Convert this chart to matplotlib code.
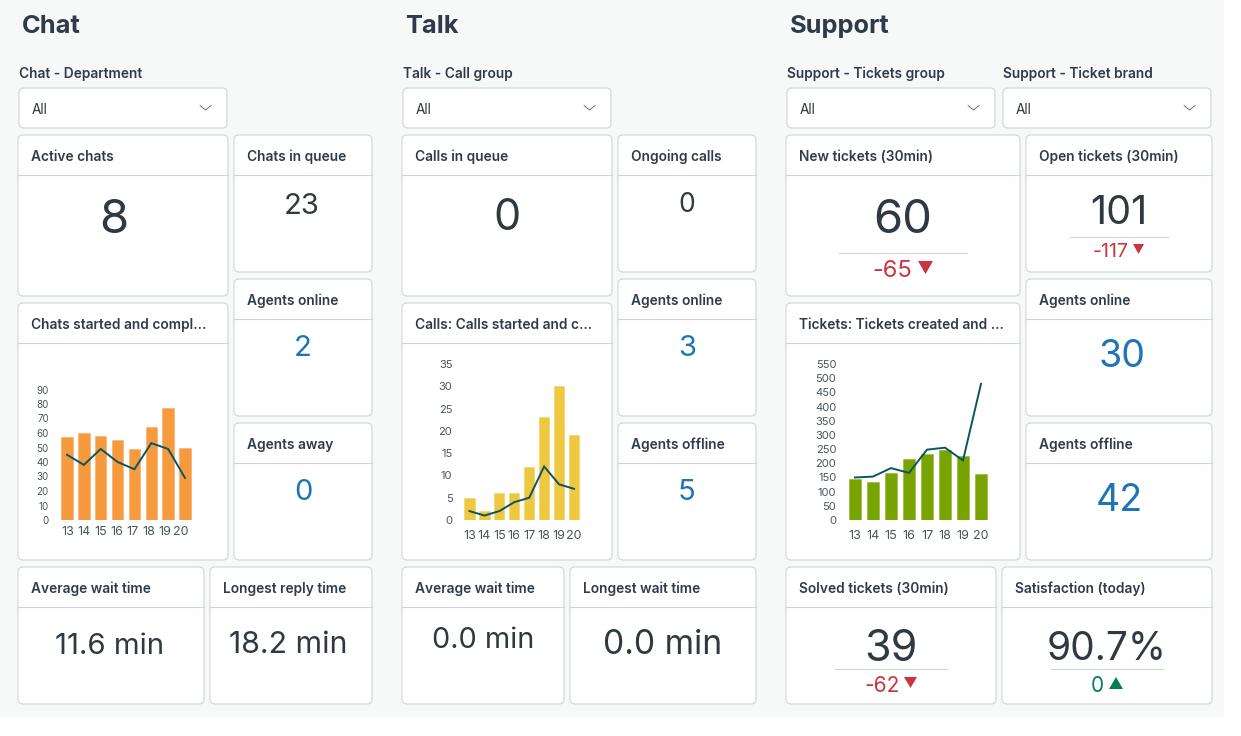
"""live support dashboard: chat, talk and support panels"""
import matplotlib
matplotlib.use('Agg')
import matplotlib.pyplot as plt
import numpy as np
from matplotlib.colors import to_rgba
from matplotlib.patches import FancyBboxPatch, Polygon, Rectangle

plt.rcParams['font.family'] = ['Inter', 'DejaVu Sans']

W, H = 1241, 736
INK = '#2f3941'
HEAD = '#2f3a4b'
BLUE = '#1f73b7'
RED = '#cc3340'
GREEN = '#038153'
BORDER = '#d0d4d6'
LINE = '#0b5563'

hours = ['13', '14', '15', '16', '17', '18', '19', '20']

chat_started = [57, 60, 58, 55, 49, 64, 77, 50]
chat_completed = [45, 38, 49, 40, 35, 53, 49, 29]
chat_ticks = [0, 10, 20, 30, 40, 50, 60, 70, 80, 90]

calls_started = [5, 2, 6, 6, 12, 23, 30, 19]
calls_completed = [2, 1, 2, 4, 5, 12, 8, 7]
calls_ticks = [0, 5, 10, 15, 20, 25, 30, 35]

tickets_created = [145, 133, 165, 215, 232, 247, 224, 163]
tickets_solved = [150, 153, 183, 166, 248, 255, 210, 480]
tickets_ticks = [0, 50, 100, 150, 200, 250, 300, 350, 400, 450, 500, 550]

sections = [('Chat', 22), ('Talk', 405.5), ('Support', 790)]

# label, left, right
filters = [
    ('Chat - Department', 19, 227),
    ('Talk - Call group', 403, 611),
    ('Support - Tickets group', 787, 995),
    ('Support - Ticket brand', 1003, 1211),
]

# title, x0, y0, x1, y1
cards = [
    ('Active chats', 18, 135, 228, 296),
    ('Chats in queue', 234, 135, 372, 272),
    ('Chats started and compl...', 18, 303, 228, 560),
    ('Agents online', 234, 279, 372, 416),
    ('Agents away', 234, 423, 372, 560),
    ('Average wait time', 18, 567, 204, 704),
    ('Longest reply time', 210, 567, 372, 704),
    ('Calls in queue', 402, 135, 612, 296),
    ('Ongoing calls', 618, 135, 756, 272),
    ('Calls: Calls started and c...', 402, 303, 612, 560),
    ('Agents online', 618, 279, 756, 416),
    ('Agents offline', 618, 423, 756, 560),
    ('Average wait time', 402, 567, 564, 704),
    ('Longest wait time', 570, 567, 756, 704),
    ('New tickets (30min)', 786, 135, 1020, 296),
    ('Open tickets (30min)', 1026, 135, 1212, 272),
    ('Tickets: Tickets created and ...', 786, 303, 1020, 560),
    ('Agents online', 1026, 279, 1212, 416),
    ('Agents offline', 1026, 423, 1212, 560),
    ('Solved tickets (30min)', 786, 567, 996, 704),
    ('Satisfaction (today)', 1002, 567, 1212, 704),
]

# text, centre x, centre y, font size, colour
values = [
    ('8', 114, 216, 34, INK),
    ('23', 302, 204, 21, INK),
    ('2', 303, 345, 21, BLUE),
    ('0', 303, 489, 21, BLUE),
    ('11.6 min', 110, 644, 21.2, INK),
    ('18.2 min', 288, 642, 21.8, INK),
    ('0', 507, 214, 31, INK),
    ('0', 687, 202, 19, INK),
    ('3', 687, 345, 21, BLUE),
    ('5', 687, 489, 21, BLUE),
    ('0.0 min', 483, 637, 20.8, INK),
    ('0.0 min', 663, 642, 24.2, INK),
    ('60', 903, 216, 34, INK),
    ('101', 1119, 209, 28.5, INK),
    ('30', 1122, 353, 27, BLUE),
    ('42', 1119, 497, 27, BLUE),
    ('39', 891, 645, 31, INK),
    ('90.7%', 1107, 646, 28, INK),
]

# text, centre x, centre y, size, colour, rule x0, rule x1, rule y, triangle x0, x1, y0, y1, points down
deltas = [
    ('-65', 892, 268.5, 17, RED, 839, 967, 253, 918, 933, 261, 274, True),
    ('-117', 1111, 250, 14, RED, 1070, 1168, 237, 1133, 1144, 244, 254, True),
    ('-62', 882, 684, 15, RED, 835, 947, 669, 904, 917, 677, 688, True),
    ('0', 1097, 684, 15, GREEN, 1051, 1163, 669, 1109, 1123, 677, 689, False),
]

fig = plt.figure(figsize=(W / 100, H / 100), dpi=100, facecolor='white')
page = fig.add_axes([0, 0, 1, 1])
page.set_xlim(0, W)
page.set_ylim(H, 0)
page.axis('off')
page.add_patch(Rectangle((0, 0), 1224, 717, fc='#f7f9f9', ec='none'))


def round_box(x0, y0, x1, y1):
    page.add_patch(FancyBboxPatch((x0, y0), x1 - x0, y1 - y0, boxstyle='round,pad=0,rounding_size=5',
                                  fc='white', ec=BORDER, lw=0.8))


for name, x in sections:
    page.text(x, 26.5, name, fontsize=18.3, fontweight='bold', color=HEAD, ha='left', va='center')

for label, x0, x1 in filters:
    page.text(x0, 74, label, fontsize=9.9, fontweight='semibold', color=HEAD, ha='left', va='center')
    round_box(x0, 88, x1, 128)
    page.text(x0 + 13, 109.5, 'All', fontsize=9.8, color=INK, ha='left', va='center')
    page.plot([x1 - 27, x1 - 21.5, x1 - 16], [105.5, 110, 105.5], color='#68737d', lw=0.7)

for title, x0, y0, x1, y1 in cards:
    round_box(x0, y0, x1, y1)
    page.plot([x0, x1], [y0 + 40, y0 + 40], color=BORDER, lw=0.8)
    page.text(x0 + 13, y0 + 22, title, fontsize=9.9, fontweight='semibold', color=HEAD, ha='left', va='center')

for text, x, y, size, colour in values:
    page.text(x, y, text, fontsize=size, color=colour, ha='center', va='center_baseline')

for text, x, y, size, colour, rx0, rx1, ry, tx0, tx1, ty0, ty1, down in deltas:
    page.plot([rx0, rx1], [ry, ry], color=BORDER, lw=0.8)
    page.text(x, y, text, fontsize=size, color=colour, ha='center', va='center_baseline')
    tip, base = (ty1, ty0) if down else (ty0, ty1)
    page.add_patch(Polygon([(tx0, base), (tx1, base), ((tx0 + tx1) / 2, tip)], fc=colour, ec='none'))


def bar_chart(bars, line, ticks, colour, first, last, top, width, tick_size, pad, label_first, label_last):
    """bars and a line on axes placed so category centres land on first..last px"""
    step = (last - first) / (len(bars) - 1)
    left, right = first - step / 2, last + step / 2
    bottom = 520
    ax = fig.add_axes([left / W, 1 - bottom / H, (right - left) / W, (bottom - top) / H])
    ax.patch.set_alpha(0)
    xs = range(len(bars))
    ax.bar(xs, bars, width=width / step, color=colour, edgecolor=to_rgba(colour, 0.35), linewidth=0.8)
    ax.plot(xs, line, color=LINE, lw=1.4, solid_joinstyle='miter', clip_on=False)
    ax.set_xlim(-0.5, len(bars) - 0.5)
    ax.set_ylim(0, ticks[-1])
    # the labels in the narrow chart sit a little tighter than the bars
    ax.set_xticks(np.linspace(label_first, label_last, len(hours)), hours)
    ax.set_yticks(ticks)
    ax.tick_params(axis='both', length=0, colors='#49545c')
    ax.tick_params(axis='x', labelsize=9, pad=pad)
    ax.tick_params(axis='y', labelsize=tick_size, pad=7)
    for spine in ax.spines.values():
        spine.set_visible(False)


bar_chart(chat_started, chat_completed, chat_ticks, '#f79a3e', 67, 185, 389.5, 11.5, 7, 4, 0.06, 6.76)
bar_chart(calls_started, calls_completed, calls_ticks, '#eec83e', 469.5, 574, 364, 10.2, 8, 7, 0, 7)
bar_chart(tickets_created, tickets_solved, tickets_ticks, '#78a300', 855, 981, 364, 12.2, 8, 7, 0, 7)

fig.savefig('out.png', dpi=100)
